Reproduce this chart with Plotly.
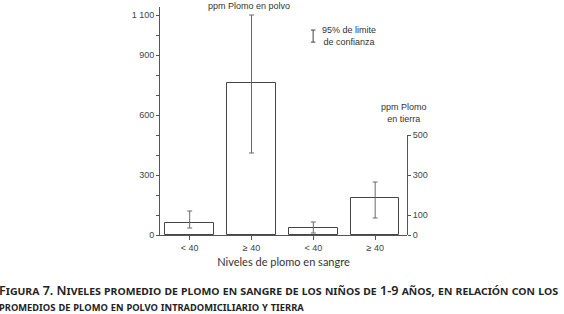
import plotly.graph_objects as go

# ---- data ----
categories = ["< 40", "≥ 40", "< 40", "≥ 40"]
polvo_pos = [0, 1]
polvo_mean = [60, 760]
polvo_upper = [120, 1100]
polvo_lower = [35, 410]
tierra_pos = [2, 3]
tierra_mean = [35, 185]
tierra_upper = [65, 265]
tierra_lower = [10, 85]
left_tickvals = [0, 100, 200, 300, 400, 500, 600, 700, 800, 900, 1000, 1100]
left_ticktext = ["0", "", "", "300", "", "", "600", "", "", "900", "", "1 100"]
right_tickvals = [0, 100, 300, 500]
right_ticktext = ["0", "100", "300", "500"]

BAR_LINE = "#454545"
ERR = "#6a6a6a"
AXIS = "#555555"
TICKFONT = dict(family="Liberation Sans, Arial", size=9, color="#444444")
TXTFONT = dict(family="Liberation Sans, Arial", size=9, color="#333333")

fig = go.Figure()
fig.add_trace(go.Bar(
    x=polvo_pos, y=polvo_mean, width=0.785,
    marker=dict(color="white", line=dict(color=BAR_LINE, width=1)),
    error_y=dict(type="data", symmetric=False,
                 array=[u - m for u, m in zip(polvo_upper, polvo_mean)],
                 arrayminus=[m - l for m, l in zip(polvo_mean, polvo_lower)],
                 color=ERR, thickness=1, width=2.5),
    showlegend=False, xaxis="x", yaxis="y"))
fig.add_trace(go.Bar(
    x=tierra_pos, y=tierra_mean, width=0.785,
    marker=dict(color="white", line=dict(color=BAR_LINE, width=1)),
    error_y=dict(type="data", symmetric=False,
                 array=[u - m for u, m in zip(tierra_upper, tierra_mean)],
                 arrayminus=[m - l for m, l in zip(tierra_mean, tierra_lower)],
                 color=ERR, thickness=1, width=2.5),
    showlegend=False, xaxis="x", yaxis="y2"))

YMAX = 1140
fig.update_layout(
    width=564, height=314,
    margin=dict(l=160, r=157, t=7, b=79),
    paper_bgcolor="white", plot_bgcolor="rgba(0,0,0,0)",
    bargap=0,
    xaxis=dict(range=[-0.48, 3.515], tickvals=[0, 1, 2, 3], ticktext=categories,
               showline=True, linecolor=AXIS, linewidth=1, ticks="outside",
               ticklen=4, tickcolor=AXIS, showgrid=False, zeroline=False,
               tickfont=TICKFONT, anchor="y", automargin=False,
               title=dict(text="Niveles de plomo en sangre", standoff=6,
                          font=dict(family="Lato, Noto Sans, sans-serif", size=11, color="#333333"))),
    yaxis=dict(range=[0, YMAX], tickvals=left_tickvals, ticktext=left_ticktext,
               showline=True, linecolor=AXIS, linewidth=1, ticks="outside",
               ticklen=3, tickcolor=AXIS, showgrid=False, zeroline=False,
               tickfont=TICKFONT, domain=[0, 1], anchor="x", automargin=False),
    yaxis2=dict(range=[0, 500], domain=[0, 500 / YMAX], side="right", anchor="x",
                tickvals=right_tickvals, ticktext=right_ticktext,
                showline=True, linecolor=AXIS, linewidth=1, ticks="outside",
                ticklen=3, tickcolor=AXIS, showgrid=False, zeroline=False,
                tickfont=TICKFONT, automargin=False),
)

# legend glyph for the confidence interval
gx, gy0, gy1, cap = 0.62, 0.846, 0.899, 0.009
for shp in [dict(x0=gx, x1=gx, y0=gy0, y1=gy1),
            dict(x0=gx - cap, x1=gx + cap, y0=gy0, y1=gy0),
            dict(x0=gx - cap, x1=gx + cap, y0=gy1, y1=gy1)]:
    fig.add_shape(type="line", xref="paper", yref="paper",
                  line=dict(color="#444444", width=1), **shp)

fig.add_annotation(text="ppm Plomo en polvo", xref="paper", yref="paper",
                   x=0.36, y=1.004, showarrow=False, xanchor="center", yanchor="middle",
                   font=TXTFONT)
fig.add_annotation(text="95% de limite<br>de confianza", xref="paper", yref="paper",
                   x=0.765, y=0.871, showarrow=False, xanchor="center", yanchor="middle",
                   align="center", font=TXTFONT)
fig.add_annotation(text="ppm Plomo<br>en tierra", xref="paper", yref="paper",
                   x=0.989, y=0.537, showarrow=False, xanchor="center", yanchor="middle",
                   align="center", font=TXTFONT)

CAPFONT = dict(family="Noto Sans, Open Sans, sans-serif", size=12.6, color="#222222",
               variant="small-caps", weight=600)
caption = ("Figura 7. Niveles promedio de plomo en sangre de los niños de 1-9 años, en relación con los"
           "<br><span style='font-size:11.3px'>promedios de plomo en polvo intradomiciliario y tierra</span>")
fig.add_annotation(text=caption, xref="paper", yref="paper", x=-0.661, y=-0.277,
                   showarrow=False, xanchor="left", yanchor="middle", align="left",
                   font=CAPFONT)

fig.write_html("out.html", config={"displayModeBar": False},
               post_script="document.body.style.margin='0';")
